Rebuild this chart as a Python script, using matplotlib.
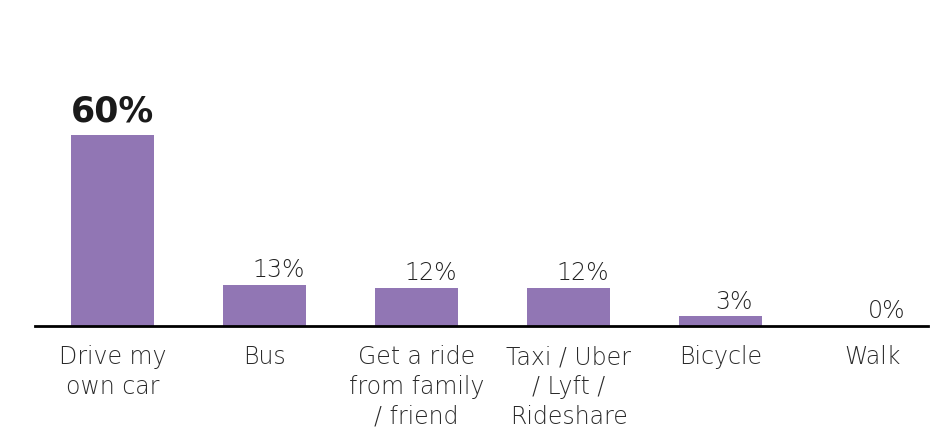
import matplotlib
matplotlib.use("Agg")
import matplotlib.pyplot as plt
import numpy as np

plt.rcParams['font.family'] = ['DejaVu Sans']

categories = ["Drive my\nown car", "Bus", "Get a ride\nfrom family\n/ friend",
              "Taxi / Uber\n/ Lyft /\nRideshare", "Bicycle", "Walk"]
shares = [60, 13, 12, 12, 3, 0]
value_labels = ["60%", "13%", "12%", "12%", "3%", "0%"]

bar_color = "#9176b4"

fig = plt.figure(figsize=(9.31, 4.33), dpi=100)
ax = fig.add_axes([35 / 931, 107 / 433, 893 / 931, 296 / 433])

x = np.arange(len(categories))
ax.bar(x, shares, width=0.55, color=bar_color)

ax.set_xlim(-0.51, 5.365)
ax.set_ylim(0, 93.1)

for i, (v, lab) in enumerate(zip(shares, value_labels)):
    if i == 0:
        ax.annotate(lab, (x[i], v), xytext=(0, 5), textcoords="offset points",
                    ha="center", va="bottom", fontsize=25, fontweight="bold",
                    color="#1a1a1a")
    else:
        ax.annotate(lab, (x[i], v), xytext=(10, 2), textcoords="offset points",
                    ha="center", va="bottom", fontsize=17, fontweight="light",
                    color="#222222")

ax.set_xticks(x)
ax.set_xticklabels(categories, fontsize=17, fontweight="light", color="#2a2a2a",
                   linespacing=1.3)
ax.tick_params(axis="x", length=0, pad=14)
ax.set_yticks([])

for s in ["top", "left", "right"]:
    ax.spines[s].set_visible(False)
ax.spines["bottom"].set_linewidth(2)
ax.spines["bottom"].set_color("black")

fig.savefig("out.png", dpi=100)
